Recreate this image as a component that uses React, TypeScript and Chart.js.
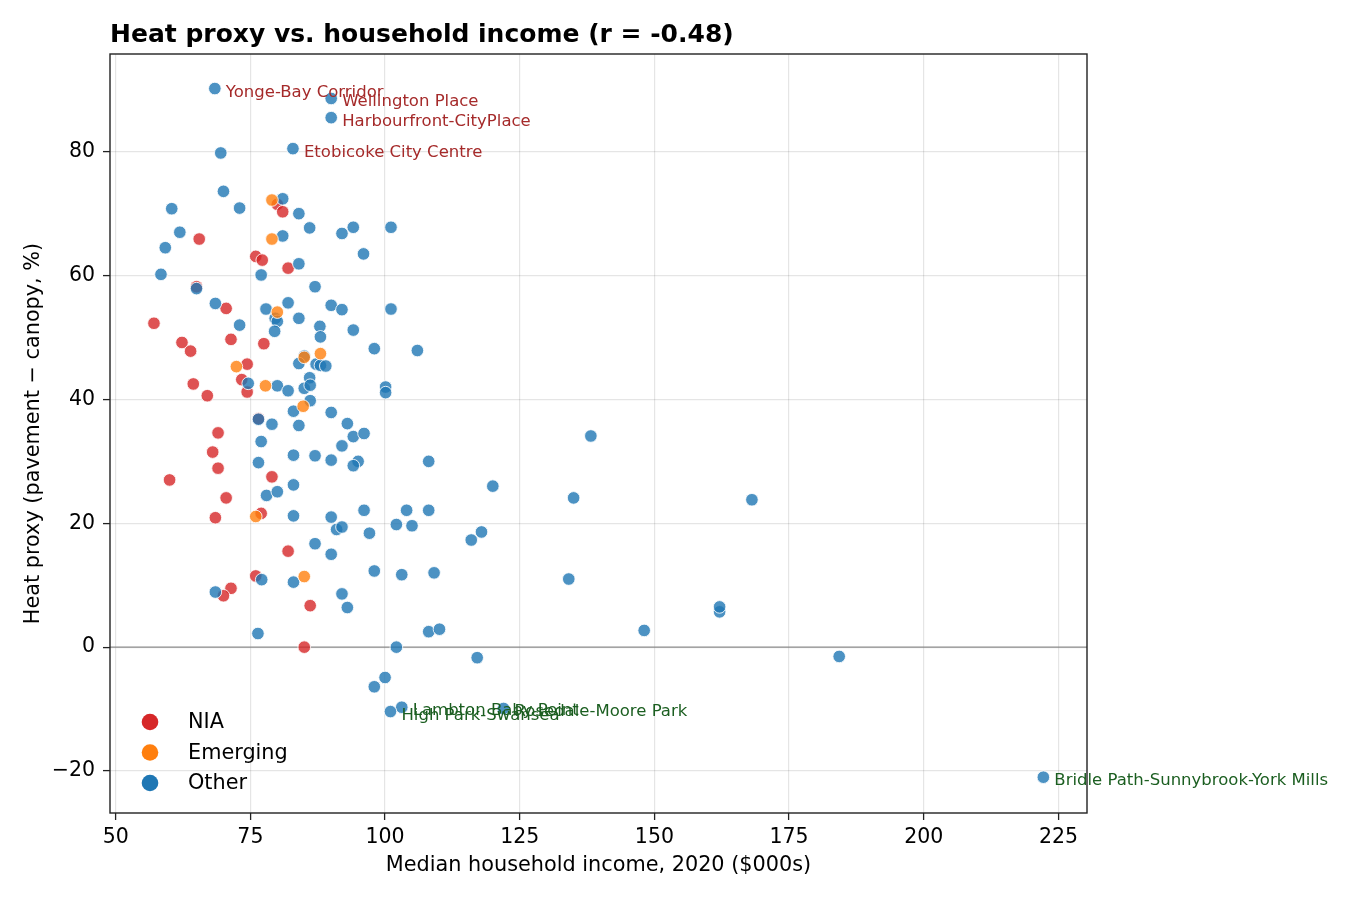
import { useEffect, useRef } from "react"
import { Chart, registerables } from "chart.js"

Chart.register(...registerables)

const xTicks = [50, 75, 100, 125, 150, 175, 200, 225]
const yTicks = [-20, 0, 20, 40, 60, 80]

const groupNames = ["NIA", "Emerging", "Other"]
const groupColors = ["#d62728", "#ff7f0e", "#1f77b4"]
const groupFills = ["rgba(214,39,40,0.8)", "rgba(255,127,14,0.8)", "rgba(31,119,180,0.8)"]

// median household income ($000s) / heat proxy (%)
const niaIncome = [80.0, 81.0, 65.5, 76.0, 77.2, 82.0, 65.0, 70.5, 57.1, 62.3, 63.9, 71.4, 77.5, 74.4, 73.4, 64.4, 67.0, 74.4, 76.5, 69.0, 68.0, 69.0, 79.0, 60.0, 70.5, 68.5, 77.0, 82.0, 76.0, 71.4, 70.0, 86.1, 85.0]
const niaHeat = [71.5, 70.3, 65.9, 63.1, 62.5, 61.2, 58.2, 54.7, 52.3, 49.2, 47.8, 49.7, 49.0, 45.7, 43.2, 42.5, 40.6, 41.2, 36.9, 34.6, 31.5, 28.9, 27.5, 27.0, 24.1, 20.9, 21.6, 15.5, 11.5, 9.5, 8.3, 6.7, 0.0]

const emergingIncome = [79.0, 79.0, 80.0, 85.0, 88.0, 72.4, 77.8, 84.8, 76.0, 85.0]
const emergingHeat = [72.2, 65.9, 54.1, 46.8, 47.4, 45.3, 42.2, 38.9, 21.1, 11.4]

const otherIncome = [
  69.5, 70.0, 81.0, 60.4, 73.0, 84.0, 86.0, 94.1, 92.0, 101.1, 61.9, 81.0, 59.2, 96.0, 84.0, 58.4, 77.0, 87.0, 65.0, 68.5,
  82.0, 90.0, 77.9, 92.0, 101.1, 84.0, 79.6, 80.0, 79.5, 87.9, 88.0, 73.0, 94.1, 98.0, 106.0, 85.0, 84.0, 87.2, 88.0, 89.0,
  86.0, 74.6, 80.0, 82.0, 85.0, 86.1, 100.1, 100.1, 86.1, 83.0, 90.0, 93.0, 79.0, 84.0, 94.1, 96.1, 92.0, 77.0, 83.0, 87.0,
  90.0, 95.0, 94.1, 108.1, 76.5, 83.0, 78.0, 80.0, 96.1, 104.0, 108.1, 83.0, 90.0, 91.0, 92.0, 102.1, 105.0, 97.1, 87.0, 90.0,
  98.0, 103.1, 109.1, 77.1, 83.0, 92.0, 93.0, 68.5, 76.4, 108.1, 110.1, 102.1, 117.1, 98.0, 100.0, 138.2, 120.0, 135.0, 168.1, 116.0,
  117.9, 134.1, 148.1, 162.1, 162.1, 184.3, 76.5,
]
const otherHeat = [
  79.8, 73.6, 72.4, 70.8, 70.9, 70.0, 67.7, 67.8, 66.8, 67.8, 67.0, 66.4, 64.5, 63.5, 61.9, 60.2, 60.1, 58.2, 57.9, 55.5,
  55.6, 55.2, 54.6, 54.5, 54.6, 53.1, 53.1, 52.6, 51.0, 51.8, 50.1, 52.0, 51.2, 48.2, 47.9, 47.0, 45.8, 45.7, 45.5, 45.4,
  43.5, 42.6, 42.2, 41.4, 41.8, 42.3, 42.0, 41.1, 39.8, 38.1, 37.9, 36.1, 36.0, 35.8, 34.0, 34.5, 32.5, 33.2, 31.0, 30.9,
  30.2, 30.0, 29.3, 30.0, 29.8, 26.2, 24.5, 25.1, 22.1, 22.1, 22.1, 21.2, 21.0, 19.0, 19.4, 19.8, 19.6, 18.4, 16.7, 15.0,
  12.3, 11.7, 12.0, 10.9, 10.5, 8.6, 6.4, 8.9, 2.2, 2.5, 2.9, 0.0, -1.7, -6.4, -4.9, 34.1, 26.0, 24.1, 23.8, 17.3,
  18.6, 11.0, 2.7, 5.7, 6.5, -1.5, 36.8,
]

// labelled neighbourhoods (all in the "Other" group)
const labelNames = [
  "Yonge-Bay Corridor",
  "Wellington Place",
  "Harbourfront-CityPlace",
  "Etobicoke City Centre",
  "Lambton Baby Point",
  "High Park-Swansea",
  "Rosedale-Moore Park",
  "Bridle Path-Sunnybrook-York Mills",
]
const labelIncome = [68.4, 90.0, 90.0, 82.9, 103.1, 101.0, 122.0, 222.2]
const labelHeat = [90.2, 88.6, 85.5, 80.5, -9.7, -10.4, -9.9, -21.0]
const labelHot = [true, true, true, true, false, false, false, false]

const FONT = "'DejaVu Sans', sans-serif"

const toPoints = (xs: number[], ys: number[]) => xs.map((x, i) => ({ x, y: ys[i] }))

const decorPlugin = {
  id: "decor",
  beforeDatasetsDraw(chart: any) {
    const { ctx, chartArea, scales } = chart
    const y0 = scales.y.getPixelForValue(0)
    ctx.save()
    ctx.strokeStyle = "#8c8c8c"
    ctx.lineWidth = 1.3
    ctx.beginPath()
    ctx.moveTo(chartArea.left, y0)
    ctx.lineTo(chartArea.right, y0)
    ctx.stroke()
    ctx.restore()
  },
  afterDatasetsDraw(chart: any) {
    const { ctx, chartArea, scales } = chart
    ctx.save()
    // frame
    ctx.strokeStyle = "#222"
    ctx.lineWidth = 1.4
    ctx.strokeRect(chartArea.left, chartArea.top, chartArea.right - chartArea.left, chartArea.bottom - chartArea.top)

    // annotations
    ctx.font = `16.5px ${FONT}`
    ctx.textAlign = "left"
    ctx.textBaseline = "alphabetic"
    labelNames.forEach((name, i) => {
      const px = scales.x.getPixelForValue(labelIncome[i])
      const py = scales.y.getPixelForValue(labelHeat[i])
      ctx.fillStyle = labelHot[i] ? "#a52a2a" : "#1b5e20"
      ctx.fillText(name, px + 11, py + 8)
    })

    // legend
    ctx.font = `20.8px ${FONT}`
    ctx.textBaseline = "middle"
    groupNames.forEach((name, i) => {
      const ly = 722 + i * 30.5
      ctx.fillStyle = groupColors[i]
      ctx.beginPath()
      ctx.arc(chartArea.left + 40, ly, 8.3, 0, Math.PI * 2)
      ctx.fill()
      ctx.fillStyle = "#000"
      ctx.fillText(name, chartArea.left + 78, ly + 1)
    })

    // title
    ctx.font = `bold 25px ${FONT}`
    ctx.textBaseline = "alphabetic"
    ctx.fillText("Heat proxy vs. household income (r = -0.48)", chartArea.left, 42)
    ctx.restore()
  },
}

function HeatIncomeChart() {
  const chartRef = useRef<HTMLCanvasElement>(null)
  const chartInstance = useRef<Chart | null>(null)

  useEffect(() => {
    if (!chartRef.current) return
    if (chartInstance.current) chartInstance.current.destroy()
    const ctx = chartRef.current.getContext("2d")
    if (!ctx) return

    const pointStyle = (i: number) => ({
      backgroundColor: groupFills[i],
      borderColor: "rgba(255,255,255,0.85)",
      borderWidth: 1,
      pointRadius: 6.3,
      pointHoverRadius: 6.3,
    })

    chartInstance.current = new Chart(ctx, {
      type: "scatter",
      data: {
        datasets: [
          { label: "NIA", data: toPoints(niaIncome, niaHeat), order: 2, ...pointStyle(0) },
          { label: "Emerging", data: toPoints(emergingIncome, emergingHeat), order: 0, ...pointStyle(1) },
          {
            label: "Other",
            data: toPoints(otherIncome.concat(labelIncome), otherHeat.concat(labelHeat)),
            order: 1,
            ...pointStyle(2),
          },
        ],
      },
      options: {
        animation: false,
        responsive: true,
        maintainAspectRatio: false,
        layout: { padding: { top: 54, right: 263, left: 0, bottom: 0 } },
        plugins: {
          legend: { display: false },
          title: { display: false },
          tooltip: { enabled: false },
        },
        scales: {
          x: {
            type: "linear",
            min: 48.94,
            max: 230.3,
            afterBuildTicks: (axis: any) => {
              axis.ticks = xTicks.map((v) => ({ value: v }))
            },
            afterFit: (axis: any) => {
              axis.height = 87
            },
            grid: { color: "rgba(0,0,0,0.1)", tickColor: "#222", tickLength: 7, lineWidth: 1.2, tickWidth: 1.3 },
            border: { display: false },
            ticks: { color: "#000", font: { family: FONT, size: 20.5 }, padding: 5, maxRotation: 0 },
            title: {
              display: true,
              text: "Median household income, 2020 ($000s)",
              color: "#000",
              font: { family: FONT, size: 20.8 },
              padding: { top: 0, bottom: 22 },
            },
          },
          y: {
            type: "linear",
            min: -26.78,
            max: 95.78,
            afterBuildTicks: (axis: any) => {
              axis.ticks = yTicks.map((v) => ({ value: v }))
            },
            afterFit: (axis: any) => {
              axis.width = 110
            },
            grid: { color: "rgba(0,0,0,0.1)", tickColor: "#222", tickLength: 7, lineWidth: 1.2, tickWidth: 1.3 },
            border: { display: false },
            ticks: {
              color: "#000",
              font: { family: FONT, size: 20.5 },
              padding: 8,
              callback: (v: any) => (v < 0 ? "\u2212" + Math.abs(v) : String(v)),
            },
            title: {
              display: true,
              text: "Heat proxy (pavement \u2212 canopy, %)",
              color: "#000",
              font: { family: FONT, size: 20.8 },
              padding: { top: 21, bottom: 0 },
            },
          },
        },
      },
      plugins: [decorPlugin],
    })

    return () => {
      if (chartInstance.current) {
        chartInstance.current.destroy()
        chartInstance.current = null
      }
    }
  }, [])

  return <canvas ref={chartRef} />
}

export default function App() {
  return (
    <div style={{ position: "absolute", left: 0, top: 0, width: 1350, height: 900, background: "#fff" }}>
      <HeatIncomeChart />
    </div>
  )
}
